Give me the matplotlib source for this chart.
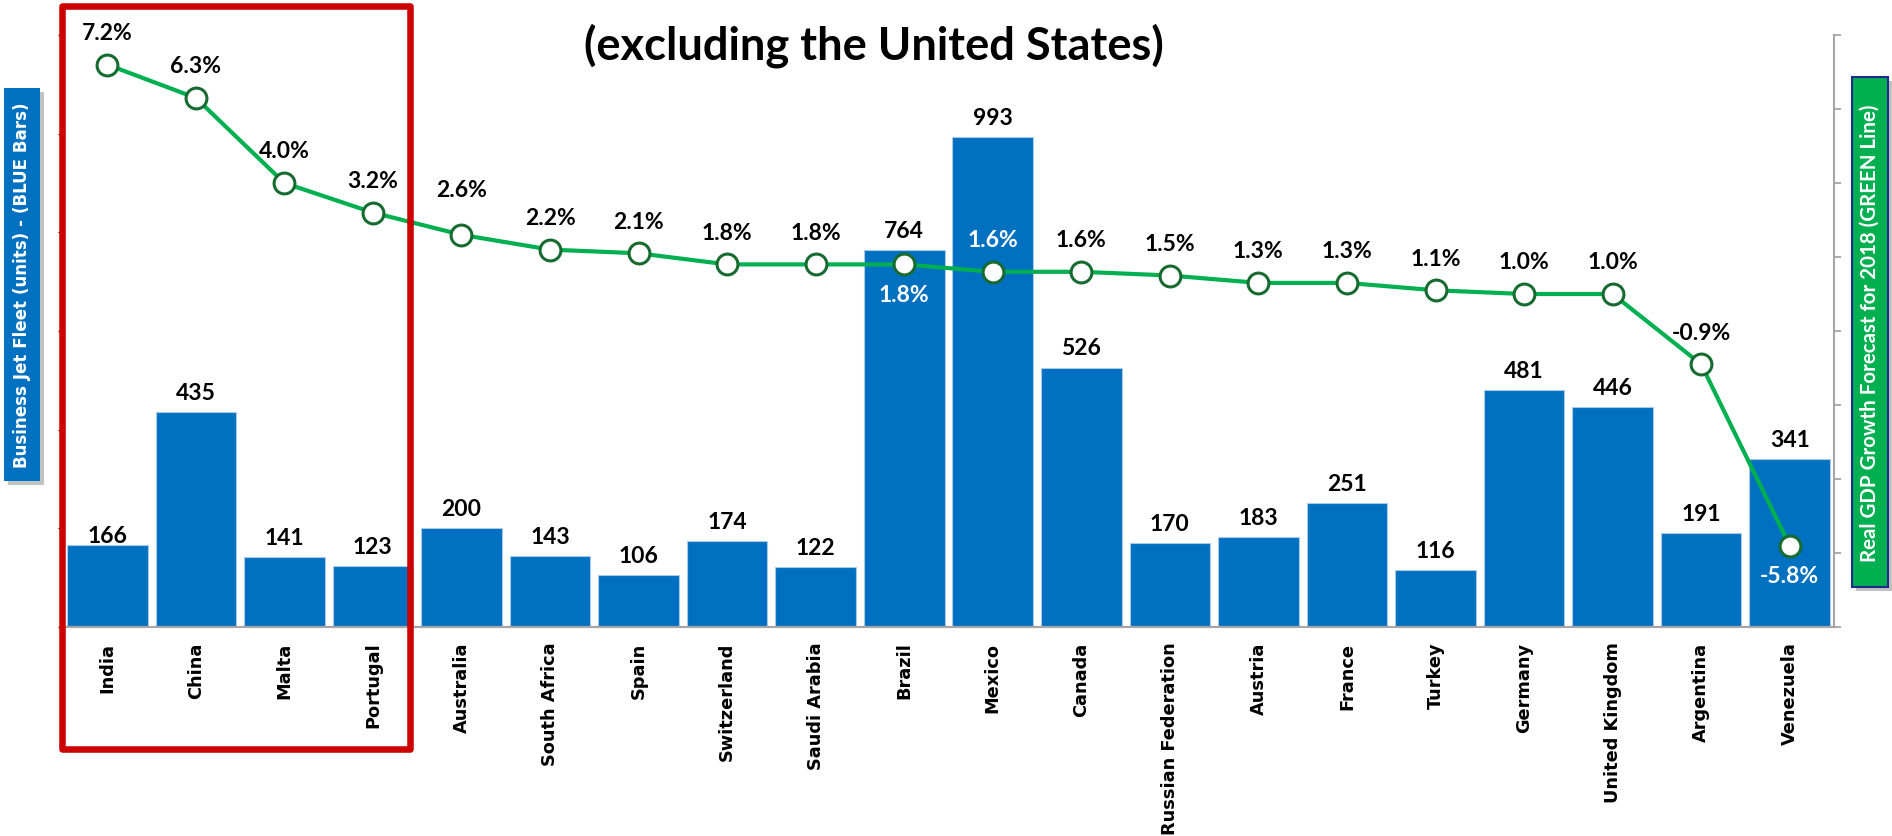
import numpy as np
import matplotlib
matplotlib.use("Agg")
import matplotlib.pyplot as plt
from matplotlib.patches import Rectangle

countries = ["India", "China", "Malta", "Portugal", "Australia", "South Africa", "Spain",
             "Switzerland", "Saudi Arabia", "Brazil", "Mexico", "Canada", "Russian Federation",
             "Austria", "France", "Turkey", "Germany", "United Kingdom", "Argentina", "Venezuela"]
fleet = [166, 435, 141, 123, 200, 143, 106, 174, 122, 764, 993, 526, 170, 183, 251, 116, 481, 446, 191, 341]
gdp = [7.2, 6.3, 4.0, 3.2, 2.6, 2.2, 2.1, 1.8, 1.8, 1.8, 1.6, 1.6, 1.5, 1.3, 1.3, 1.1, 1.0, 1.0, -0.9, -5.8]

# labels that sit inside the blue bars are white; some go below the marker
white_below = ["Brazil", "Venezuela"]
white_above = ["Mexico"]

W, H = 1892, 837
fig = plt.figure(figsize=(W / 100, H / 100), dpi=100)
fig.patch.set_facecolor("white")

def px(x0, y0, x1, y1):
    # pixel box (top-left origin) -> figure fraction rect
    return [x0 / W, 1 - y1 / H, (x1 - x0) / W, (y1 - y0) / H]

ax = fig.add_axes(px(63, 36, 1834, 628))
x = np.arange(len(countries))
ax.bar(x, fleet, width=0.91, color="#0070C0", edgecolor="#A9CBEA", linewidth=0.8, zorder=2)
ax.set_xlim(-0.5, len(countries) - 0.5)
ax.set_ylim(0, 1200)
for s in ["left", "top", "right"]:
    ax.spines[s].set_visible(False)
ax.spines["bottom"].set_color("#A6A6A6")
ax.spines["bottom"].set_linewidth(1.6)
ax.tick_params(left=False, labelleft=False)
ax.set_xticks(x)
ax.set_xticklabels(countries, rotation=90, fontsize=12.8, fontweight="bold", family="DejaVu Sans")
ax.tick_params(axis="x", length=0, pad=10.5)

for i, v in enumerate(fleet):
    off = 2 if countries[i] == "India" else 9.4
    ax.annotate(str(v), (i, v), xytext=(0, off), textcoords="offset points",
                ha="center", va="baseline", fontsize=16.5, fontweight="bold", family="Lato", color="black")

ax2 = ax.twinx()
ax2.set_ylim(-8, 8)
ax2.plot(x, gdp, color="#00B050", lw=3, marker="o", markersize=15, markerfacecolor="white",
         markeredgecolor="#176B30", markeredgewidth=2.2, zorder=3)
for s in ["left", "top", "bottom"]:
    ax2.spines[s].set_visible(False)
ax2.spines["right"].set_color("#A6A6A6")
ax2.spines["right"].set_linewidth(1.5)
ax2.set_yticks(np.arange(-8, 9, 2))
ax2.tick_params(axis="y", direction="out", length=5, width=1.3, color="#A6A6A6", labelright=False)

for i, v in enumerate(gdp):
    name = countries[i]
    lab = f"{v:.1f}%"
    if name in white_below:
        ax2.annotate(lab, (i, v), xytext=(0, -14), textcoords="offset points", ha="center", va="top",
                     fontsize=16.5, fontweight="bold", family="Lato", color="white")
    else:
        col = "white" if name in white_above else "black"
        off = 27.7 if name == "Australia" else 18.5
        ax2.annotate(lab, (i, v), xytext=(0, off), textcoords="offset points", ha="center", va="baseline",
                     fontsize=16.5, fontweight="bold", family="Lato", color=col)

# title (second line only visible in the crop)
fig.text(874 / W, 1 - 46 / H, "(excluding the United States)", ha="center", va="center",
         fontsize=32.6, fontweight="bold", family="Lato")

# axis title boxes
sh = 4
fig.patches.append(Rectangle(px(4 + sh, 89 + sh, 40 + sh, 482 + sh)[:2], *px(4, 89, 40, 482)[2:],
                             transform=fig.transFigure, facecolor="#9A9A9A", alpha=0.6, edgecolor="none"))
fig.patches.append(Rectangle(px(4, 89, 40, 482)[:2], *px(4, 89, 40, 482)[2:],
                             transform=fig.transFigure, facecolor="#0070C0", edgecolor="none"))
fig.text(22 / W, 1 - 285.5 / H, "Business Jet Fleet (units) - (BLUE Bars)", rotation=90,
         ha="center", va="center", color="white", fontsize=12.1, fontweight="bold", family="DejaVu Sans")

fig.patches.append(Rectangle(px(1852 + sh, 78 + sh, 1888 + sh, 588 + sh)[:2], *px(1852, 78, 1888, 588)[2:],
                             transform=fig.transFigure, facecolor="#9A9A9A", alpha=0.6, edgecolor="none"))
fig.patches.append(Rectangle(px(1852, 78, 1888, 588)[:2], *px(1852, 78, 1888, 588)[2:],
                             transform=fig.transFigure, facecolor="#00B050", edgecolor="#1F2A8F", linewidth=1.5))
fig.text(1870 / W, 1 - 333 / H, "Real GDP Growth Forecast for 2018 (GREEN Line)", rotation=90,
         ha="center", va="center", color="white", fontsize=14.8, fontweight="bold", family="Lato")

# red highlight box around the top four
fig.patches.append(Rectangle(px(62, 7, 410, 750)[:2], *px(62, 7, 410, 750)[2:], transform=fig.transFigure,
                             fill=False, edgecolor="#CC0000", linewidth=4.7, joinstyle="round", zorder=5))

fig.savefig("out.png", dpi=100)
